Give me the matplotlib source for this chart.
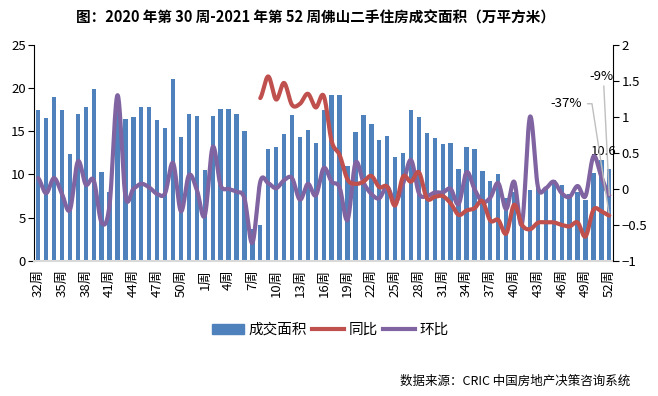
import numpy as np
import matplotlib
matplotlib.use("Agg")
import matplotlib.pyplot as plt
from matplotlib.lines import Line2D
from matplotlib.patches import Patch

plt.rcParams['font.family'] = ['Noto Sans CJK SC', 'DejaVu Sans']
plt.rcParams['axes.unicode_minus'] = False

# ---------------- data ----------------
weeks_2020 = list(range(32, 53))
weeks_2021 = list(range(1, 53))
week_labels = [f"{w}周" for w in weeks_2020 + weeks_2021]

# 成交面积 (万平方米)
area = [17.45, 16.5, 18.95, 17.45, 12.37, 16.99, 17.8, 19.88, 10.29, 7.97,
        18.2, 16.41, 16.6, 17.8, 17.8, 16.29, 15.37, 21.03, 14.33, 16.99,
        16.76,
        10.52, 16.76, 17.57, 17.57, 16.99, 15.02, 3.7, 4.16, 12.94, 13.17,
        14.68, 16.87, 14.33, 15.14, 13.64, 17.45, 19.18, 19.18, 10.98, 14.91,
        16.87, 15.83, 13.98, 14.45, 12.02, 12.48, 17.45, 16.64, 14.79, 14.21,
        13.52, 13.64, 10.63, 13.17, 12.94, 10.4, 9.24, 10.05, 7.28, 7.97,
        4.1, 8.2, 8.5, 8.45, 9.36, 8.79, 7.7, 7.94, 7.05, 10.15,
        11.7, 10.6]

# 同比 (starts at 2021 week 8)
yoy_start = 28
yoy = [1.26, 1.56, 1.24, 1.47, 1.165, 1.18, 1.32, 1.13, 1.29, 0.66,
       0.47, 0.13, 0.07, 0.10, 0.18, 0.025, 0.03, -0.23, 0.17, 0.10,
       0.23, -0.13, -0.11, -0.10, -0.2, -0.36, -0.30, -0.27, -0.17, -0.44,
       -0.43, -0.62, -0.22, -0.5, -0.56, -0.47, -0.465, -0.465, -0.5, -0.52,
       -0.465, -0.66, -0.29, -0.31, -0.37]

# 环比
mom = [0.15, -0.06, 0.15, -0.07, -0.29, 0.38, 0.06, 0.12, -0.47, -0.22,
       1.30, -0.10, 0.0, 0.07, 0.02, -0.07, -0.06, 0.36, -0.31, 0.19,
       -0.01,
       -0.37, 0.58, 0.05, 0.0, -0.04, -0.13, -0.75, 0.10, 0.08, 0.01,
       0.12, 0.15, -0.15, 0.07, -0.09, 0.29, 0.10, 0.02, -0.43, 0.36,
       0.09, -0.07, -0.13, 0.03, -0.19, 0.07, 0.40, -0.06, -0.10, -0.05,
       -0.05, 0.0, -0.21, 0.23, 0.0, -0.18, -0.12, 0.08, -0.28, 0.10,
       -0.48, 1.0, 0.03, 0.01, 0.10, -0.06, -0.11, 0.04, -0.10, 0.45,
       0.17, -0.09]

last_area_label = "10.6"
mom_note = "-9%"
yoy_note = "-37%"

BLUE = "#4F81BD"
RED = "#C0504D"
PURPLE = "#8064A2"


def smooth(xs, ys, n=24):
    """Catmull-Rom (Excel-style) smoothing for display."""
    xs = np.asarray(xs, float)
    ys = np.asarray(ys, float)
    px = np.concatenate([[2 * xs[0] - xs[1]], xs, [2 * xs[-1] - xs[-2]]])
    py = np.concatenate([[ys[0]], ys, [ys[-1]]])
    ox, oy = [], []
    t = np.linspace(0, 1, n, endpoint=False)
    for i in range(1, len(px) - 2):
        p0x, p1x, p2x, p3x = px[i - 1:i + 3]
        p0y, p1y, p2y, p3y = py[i - 1:i + 3]
        t2, t3 = t * t, t * t * t
        ox.append(0.5 * (2 * p1x + (-p0x + p2x) * t + (2 * p0x - 5 * p1x + 4 * p2x - p3x) * t2 + (-p0x + 3 * p1x - 3 * p2x + p3x) * t3))
        oy.append(0.5 * (2 * p1y + (-p0y + p2y) * t + (2 * p0y - 5 * p1y + 4 * p2y - p3y) * t2 + (-p0y + 3 * p1y - 3 * p2y + p3y) * t3))
    ox.append([xs[-1]])
    oy.append([ys[-1]])
    return np.concatenate(ox), np.concatenate(oy)


fig = plt.figure(figsize=(6.58, 3.96), dpi=100)
ax = fig.add_axes([0.052, 0.341, 0.880, 0.546])
ax2 = ax.twinx()

x = np.arange(len(area))
ax.bar(x, area, width=0.55, color=BLUE, zorder=2)
ax.set_xlim(-0.5, len(area) - 0.5)
ax.set_ylim(0, 25)
ax.set_yticks(np.arange(0, 26, 5))
ax.set_xticks(x[::3])
ax.set_xticklabels(week_labels[::3], rotation=90, fontsize=9.5)
ax.tick_params(axis='x', length=0, pad=6)
ax.tick_params(axis='y', direction='out', length=4, width=0.8, labelsize=9.5, pad=2)
for s in ['top', 'right']:
    ax.spines[s].set_visible(False)
ax.spines['bottom'].set_color('#D9D9D9')
ax.spines['bottom'].set_linewidth(1.5)
ax.spines['left'].set_linewidth(0.8)

# secondary axis
xm, ym = smooth(x, mom)
ax2.plot(xm, ym, color=PURPLE, lw=3, solid_capstyle='round', zorder=3)
xy_ = np.arange(yoy_start, yoy_start + len(yoy))
xr, yr = smooth(xy_, yoy)
ax2.plot(xr, yr, color=RED, lw=3, solid_capstyle='round', zorder=4)
ax2.set_ylim(-1, 2)
rt = np.arange(-1, 2.01, 0.5)
ax2.set_yticks(rt)
ax2.set_yticklabels(['−1', '−0.5', '0', '0.5', '1', '1.5', '2'])
ax2.tick_params(axis='y', direction='out', length=4, width=0.8, labelsize=9.5, pad=2)
for s in ['top', 'left', 'bottom']:
    ax2.spines[s].set_visible(False)
ax2.spines['right'].set_linewidth(0.8)

# data label of last bar
ax.annotate(last_area_label, xy=(x[-1], area[-1]), xytext=(-4.3, 12.5),
            textcoords='offset points', ha='center', va='center', fontsize=9.5)

# notes with leader lines
ax2.annotate(mom_note, xy=(x[-1], mom[-1]), xytext=(-5.8, 85.5),
             textcoords='offset points', ha='center', va='center', fontsize=9.5,
             arrowprops=dict(arrowstyle='-', color='#BFBFBF', lw=1, relpos=(0.6, 0.0),
                             shrinkA=0, shrinkB=0))
ax2.annotate(yoy_note, xy=(x[-1], yoy[-1]), xytext=(-31, 80.5),
             textcoords='offset points', ha='center', va='center', fontsize=9.5,
             arrowprops=dict(arrowstyle='-', color='#BFBFBF', lw=1, relpos=(1.0, 0.5),
                             shrinkA=2, shrinkB=0,
                             connectionstyle='angle,angleA=0,angleB=98.8,rad=0'))

# title
fig.text(0.479, 1 - 18 / 396, "图：2020 年第 30 周-2021 年第 52 周佛山二手住房成交面积（万平方米）",
         ha='center', va='center', fontsize=10.5, fontweight='bold')

# legend
handles = [Patch(color=BLUE), Line2D([], [], color=RED, lw=3), Line2D([], [], color=PURPLE, lw=3)]
fig.legend(handles, ['成交面积', '同比', '环比'], loc='center',
           bbox_to_anchor=(0.502, 1 - 330 / 396), ncol=3, frameon=False,
           fontsize=10.5, handlelength=2.2, handletextpad=0.35, columnspacing=0.3)

# source
fig.text(0.958, 1 - 381 / 396, "数据来源：CRIC 中国房地产决策咨询系统",
         ha='right', va='center', fontsize=9)

fig.savefig("out.png", dpi=100)
